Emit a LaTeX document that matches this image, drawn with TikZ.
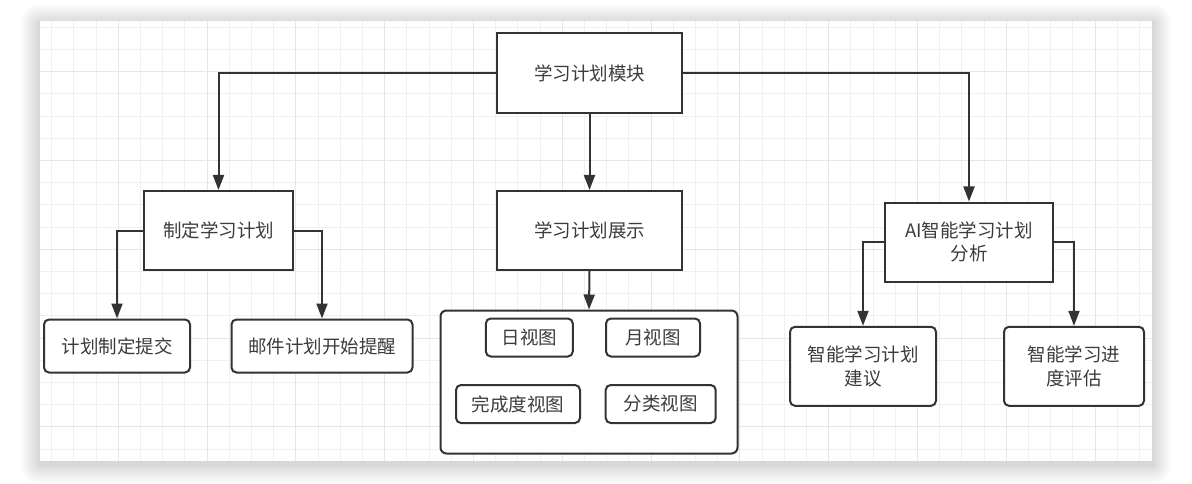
\documentclass[tikz,border=0pt]{standalone}
\usepackage{fontspec}
\newfontfamily\cjk{Noto Sans CJK SC}
\usetikzlibrary{arrows.meta}
\definecolor{inkgray}{RGB}{51,51,51}
\definecolor{textgray}{RGB}{60,60,60}
\definecolor{minorgrid}{RGB}{240,240,240}
\definecolor{majorgrid}{RGB}{230,230,230}
\tikzset{
  box/.style={draw=inkgray,line width=2pt,fill=white,inner sep=0pt,align=center,
    text=textgray,font=\cjk\fontsize{18.5}{23.5}\selectfont},
  leafbox/.style={box,rounded corners=5pt},
  arr/.style={draw=inkgray,line width=2pt,-{Triangle[length=15pt,width=11pt]}}
}
\begin{document}
\begin{tikzpicture}[x=1pt,y=-1pt]
                \useasboundingbox (0,0) rectangle (1192,484);
                % soft shadow round the canvas
                \foreach \s in {1,...,20}
                  \fill[black,opacity=0.006,rounded corners=\s pt] (40-\s,21-\s+3) rectangle (1152+\s,461+\s+3);
                \fill[white] (40,21) rectangle (1152,461);
                % grid
                \begin{scope}
                  \clip (40,21) rectangle (1152,461);
                  \foreach \i in {-4,...,46}
                    \draw[minorgrid,line width=0.9pt] (118.3+22.2*\i,21) -- ++(0,440);
                  \foreach \i in {-3,...,18}
                    \draw[minorgrid,line width=0.9pt] (40,71.7+22.2*\i) -- ++(1112,0);
                  \foreach \i in {-1,...,11}
                    \draw[majorgrid,line width=0.9pt] (118.3+88.8*\i,21) -- ++(0,440);
                  \foreach \i in {-1,...,4}
                    \draw[majorgrid,line width=0.9pt] (40,71.7+88.8*\i) -- ++(1112,0);
                \end{scope}
                % boxes
                \node[box,minimum width=185pt,minimum height=80pt] (module) at (589.5,73) {学习计划模块};
                \node[box,minimum width=149pt,minimum height=79pt] (make) at (218.5,230.5) {制定学习计划};
                \node[box,minimum width=185pt,minimum height=79pt] (show) at (589.5,230.5) {学习计划展示};
                \node[box,minimum width=168pt,minimum height=79pt] (ai) at (969,242) {AI智能学习计划\\分析};
                \node[leafbox,minimum width=146pt,minimum height=53pt] (submit) at (117,346) {计划制定提交};
                \node[leafbox,minimum width=181pt,minimum height=53pt] (mail) at (322,346) {邮件计划开始提醒};
                \node[leafbox,minimum width=297pt,minimum height=143pt,rounded corners=6pt] (views) at (589,382) {};
                \node[leafbox,minimum width=87pt,minimum height=38pt] (day) at (529.3,337.5) {日视图};
                \node[leafbox,minimum width=94pt,minimum height=38pt] (month) at (653,337.5) {月视图};
                \node[leafbox,minimum width=124pt,minimum height=38pt] (done) at (518,404) {完成度视图};
                \node[leafbox,minimum width=110pt,minimum height=38pt] (sort) at (660.7,404) {分类视图};
                \node[leafbox,minimum width=146pt,minimum height=79pt] (advice) at (863,366.3) {智能学习计划\\建议};
                \node[leafbox,minimum width=140pt,minimum height=79pt] (progress) at (1074,366.3) {智能学习进\\度评估};
                % connectors
                \draw[arr] (module.west) -| (make.north);
                \draw[arr] (module.east) -| (ai.north);
                \draw[arr] (module.south) -- (show.north);
                \draw[arr] (show.south) -- (views.north);
                \draw[arr] (make.west) -| (submit.north);
                \draw[arr] (make.east) -| (mail.north);
                \draw[arr] (ai.west) -| (advice.north);
                \draw[arr] (ai.east) -| (progress.north);
            \end{tikzpicture}
\end{document}
